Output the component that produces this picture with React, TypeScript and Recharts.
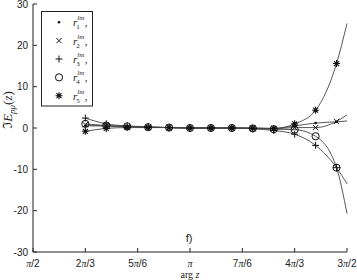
import { LineChart, Line, XAxis, YAxis } from 'recharts';

// arg z in degrees (markers every pi/15, last point is the curve end at 3pi/2)
const angles = [120, 132, 144, 156, 168, 180, 192, 204, 216, 228, 240, 252, 264, 270];
const r1 = [0.5, 0.5, 0.3, 0.2, 0.1, 0, 0, 0, 0, -0.1, 0.5, 1.2, 1.5, 1.7];
const r2 = [0.8, 0.5, 0.3, 0.2, 0.1, 0, 0, 0, 0, -0.2, 0.1, 0.1, 1.6, 3.2];
const r3 = [2.4, 1.0, 0.5, 0.3, 0.1, 0, 0, 0, -0.2, -0.6, -1.5, -4.2, -9.6, -13.5];
const r4 = [1.0, 0.6, 0.4, 0.2, 0.1, 0, 0, 0, -0.1, -0.3, -0.4, -2.0, -9.6, -20.7];
const r5 = [-0.8, -0.1, 0.1, 0.1, 0.1, 0, 0, 0, -0.1, -0.1, 1.0, 4.3, 15.6, 25.3];

const xTicks = [90, 120, 150, 180, 210, 240, 270];
const xTickParts: Record<number, [string, string]> = {
  90: ['', '/2'],
  120: ['2', '/3'],
  150: ['5', '/6'],
  180: ['', ''],
  210: ['7', '/6'],
  240: ['4', '/3'],
  270: ['3', '/2'],
};
const yTicks = [-30, -20, -10, 0, 10, 20, 30];

const data = angles.map((a, i) => ({ a, r1: r1[i], r2: r2[i], r3: r3[i], r4: r4[i], r5: r5[i] }));

const ink = '#111';
const lineColor = '#444';

type Shape = (x: number, y: number) => JSX.Element;

const dotShape: Shape = (x, y) => <circle cx={x} cy={y} r={1.3} fill={ink} />;
const crossShape: Shape = (x, y) => (
  <path d={`M${x - 2.6},${y - 2.6}L${x + 2.6},${y + 2.6}M${x - 2.6},${y + 2.6}L${x + 2.6},${y - 2.6}`} stroke={ink} strokeWidth={1} />
);
const plusShape: Shape = (x, y) => (
  <path d={`M${x - 3.5},${y}L${x + 3.5},${y}M${x},${y - 3.5}L${x},${y + 3.5}`} stroke={ink} strokeWidth={1} />
);
const circleShape: Shape = (x, y) => <circle cx={x} cy={y} r={3.6} fill="none" stroke={ink} strokeWidth={1} />;
const starShape: Shape = (x, y) => (
  <path
    d={`M${x - 3.5},${y}L${x + 3.5},${y}M${x},${y - 3.5}L${x},${y + 3.5}M${x - 2.5},${y - 2.5}L${x + 2.5},${y + 2.5}M${x - 2.5},${y + 2.5}L${x + 2.5},${y - 2.5}`}
    stroke={ink}
    strokeWidth={1.1}
  />
);

const series: { key: string; idx: string; shape: Shape }[] = [
  { key: 'r1', idx: '1', shape: dotShape },
  { key: 'r2', idx: '2', shape: crossShape },
  { key: 'r3', idx: '3', shape: plusShape },
  { key: 'r4', idx: '4', shape: circleShape },
  { key: 'r5', idx: '5', shape: starShape },
];

const makeDot = (name: string, shape: Shape) => (p: any) => (
  <g key={`${name}-${p.index}`}>{p.payload.a === 270 ? null : shape(p.cx, p.cy)}</g>
);

const XTick = ({ x, y, payload }: any) => {
  const [pre, post] = xTickParts[payload.value];
  return (
    <text x={x} y={y + 7} textAnchor="middle" fontSize={10} fill="#222" fontFamily="Liberation Sans, Arial, sans-serif">
      {pre}
      <tspan fontFamily="Liberation Serif, serif" fontStyle="italic">π</tspan>
      {post}
    </text>
  );
};

export default function App() {
  return (
    <div style={{ position: 'absolute', left: 0, top: 0, width: 357, height: 280, background: '#fff' }}>
      <LineChart width={357} height={280} data={data} margin={{ top: 4, right: 10, left: 0, bottom: 0 }}>
        <XAxis
          dataKey="a"
          type="number"
          domain={[90, 270]}
          ticks={xTicks}
          tick={<XTick />}
          tickSize={-4}
          tickMargin={12}
          height={28}
          stroke="#222"
          interval={0}
        />
        <YAxis
          type="number"
          domain={[-30, 30]}
          ticks={yTicks}
          width={33}
          tickSize={-4}
          tickMargin={9}
          stroke="#222"
          tick={{ fontSize: 10, fill: '#222', fontFamily: 'Liberation Sans, Arial, sans-serif' }}
          interval={0}
        />
        {series.map((s) => (
          <Line
            key={s.key}
            dataKey={s.key}
            type="monotone"
            stroke={lineColor}
            strokeWidth={0.9}
            dot={makeDot(s.key, s.shape)}
            activeDot={false}
            isAnimationActive={false}
          />
        ))}
      </LineChart>
      <svg width={357} height={280} style={{ position: 'absolute', left: 0, top: 0, pointerEvents: 'none' }}>
        <rect x={41.5} y={11.5} width={51} height={94.5} fill="#fff" stroke="#222" strokeWidth={1} />
        {series.map((s, i) => {
          const cy = 22.3 + i * 18.35;
          return (
            <g key={s.key}>
              {s.shape(59, cy)}
              <text x={73} y={cy + 4} fontSize={11} fill="#222" fontFamily="Liberation Serif, serif">
                <tspan fontStyle="italic">r</tspan>
                <tspan fontSize={7} fontStyle="italic" dy={-6}>lm</tspan>
                <tspan fontSize={7} dx={-8} dy={9}>{s.idx}</tspan>
                <tspan dx={5} dy={-3}>,</tspan>
              </text>
            </g>
          );
        })}
        <text
          transform="translate(12,110) rotate(-90)"
          textAnchor="middle"
          fontSize={13}
          fill="#222"
          fontFamily="Liberation Serif, serif"
        >
          ℑ<tspan fontStyle="italic">E</tspan>
          <tspan fontSize={9} fontStyle="italic" dy={3}>pμ</tspan>
          <tspan dy={-3}>(</tspan>
          <tspan fontStyle="italic">z</tspan>)
        </text>
        <text x={189} y={242} textAnchor="middle" fontSize={11} fill="#222" fontFamily="Liberation Sans, Arial, sans-serif">
          f)
        </text>
        <text x={190} y={278} textAnchor="middle" fontSize={10} fill="#222" fontFamily="Liberation Serif, serif">
          arg <tspan fontStyle="italic">z</tspan>
        </text>
      </svg>
    </div>
  );
}
